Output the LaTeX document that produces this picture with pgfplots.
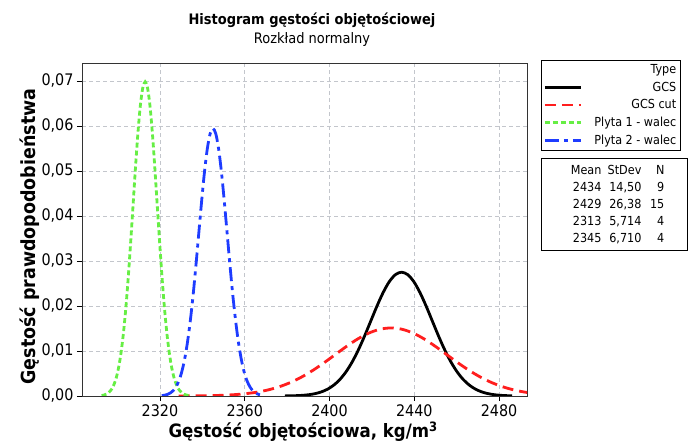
\documentclass[border=0pt]{standalone}
\usepackage{pgfplots}
\pgfplotsset{compat=1.18}
\usepackage{fontspec}
\setmainfont{DejaVu Sans Condensed}

\definecolor{gcsred}{RGB}{255,30,30}
\definecolor{p1green}{RGB}{102,238,68}
\definecolor{p2blue}{RGB}{30,60,255}
\definecolor{gridc}{RGB}{195,198,204}

\begin{document}
\begin{tikzpicture}
\useasboundingbox (0,0) rectangle (690bp,441bp);
\begin{axis}[
    at={(82bp,45bp)}, anchor=south west,
    width=445bp, height=333bp, scale only axis,
    xmin=2283.2, xmax=2493.2,
    ymin=0, ymax=0.074,
    xtick={2320,2360,2400,2440,2480},
    ytick={0,0.01,0.02,0.03,0.04,0.05,0.06,0.07},
    scaled y ticks=false,
    xtick pos=lower, ytick pos=left,
    tick align=outside, major tick length=5bp,
    every tick/.style={black, line width=0.8bp},
    axis line style={black!80, line width=0.8bp},
    grid=major,
    major grid style={gridc, line width=0.8bp, dash pattern=on 4bp off 3bp},
    /pgf/number format/assume math mode=true,
    x tick label style={/pgf/number format/1000 sep={}, font=\fontsize{16}{18}\selectfont},
    y tick label style={/pgf/number format/.cd, use comma, fixed, fixed zerofill, precision=2, /tikz/.cd, font=\fontsize{16}{18}\selectfont},
    xlabel={\bfseries Gęstość objętościowa, kg/m\textsuperscript{3}},
    ylabel={\bfseries Gęstość prawdopodobieństwa},
    xlabel style={at={(axis description cs:0.497,-0.108)}, anchor=center, font=\fontsize{18.5}{20}\selectfont},
    ylabel style={at={(axis description cs:-0.117,0.479)}, anchor=center, font=\fontsize{19.5}{21}\selectfont},
    legend style={at={(1.0315,1.009)}, anchor=north west, draw=black, line width=0.8bp,
        font=\fontsize{12.5}{14}\selectfont, row sep=3bp, inner sep=2bp},
    legend cell align=right,
    legend image code/.code={\draw[#1] (0bp,0bp) -- (36bp,0bp);},
]
\addlegendimage{empty legend}
\addlegendentry{\makebox[92bp][r]{Type}}

\addplot[black, line width=2.8bp, smooth] coordinates {
(2378.9,0.0000201) (2381.8,0.0000422) (2384.7,0.0000850) (2387.6,0.000164) (2390.5,0.000306)
(2393.4,0.000546) (2396.3,0.000937) (2399.2,0.001544) (2402.1,0.002447) (2405.0,0.003724)
(2407.9,0.005445) (2410.8,0.007650) (2413.7,0.010326) (2416.6,0.013392) (2419.5,0.016688)
(2422.4,0.019979) (2425.3,0.022981) (2428.2,0.025398) (2431.1,0.026969) (2434.0,0.027513)
(2436.9,0.026969) (2439.8,0.025398) (2442.7,0.022981) (2445.6,0.019979) (2448.5,0.016688)
(2451.4,0.013392) (2454.3,0.010326) (2457.2,0.007650) (2460.1,0.005445) (2463.0,0.003724)
(2465.9,0.002447) (2468.8,0.001544) (2471.7,0.000937) (2474.6,0.000546) (2477.5,0.000306)
(2480.4,0.000164) (2483.3,0.0000850) (2486.2,0.0000422)
};
\addlegendentry{\makebox[92bp][r]{GCS}}

\addplot[gcsred, line width=2.8bp, smooth, dash pattern=on 11bp off 6bp] coordinates {
(2328.76,0.0000111) (2334.03,0.0000232) (2339.31,0.0000467) (2344.58,0.0000904) (2349.86,0.000168)
(2355.14,0.000300) (2360.41,0.000515) (2365.69,0.000849) (2370.96,0.001345) (2376.24,0.002047)
(2381.52,0.002993) (2386.79,0.004205) (2392.07,0.005676) (2397.34,0.007361) (2402.62,0.009173)
(2407.90,0.010982) (2413.17,0.012632) (2418.45,0.013960) (2423.72,0.014823) (2429.00,0.015123)
(2434.28,0.014823) (2439.55,0.013960) (2444.83,0.012632) (2450.10,0.010982) (2455.38,0.009173)
(2460.66,0.007361) (2465.93,0.005676) (2471.21,0.004205) (2476.48,0.002993) (2481.76,0.002047)
(2487.04,0.001345) (2492.31,0.000849) (2497.59,0.000515)
};
\addlegendentry{\makebox[92bp][r]{GCS cut}}

\addplot[p1green, line width=2.8bp, smooth, dash pattern=on 5bp off 3bp] coordinates {
(2292.43,0.000107) (2293.57,0.000216) (2294.72,0.000417) (2295.86,0.000776) (2297.00,0.001385)
(2298.14,0.002377) (2299.29,0.003919) (2300.43,0.006208) (2301.57,0.009449) (2302.72,0.013817)
(2303.86,0.019412) (2305.00,0.026204) (2306.14,0.033984) (2307.29,0.042347) (2308.43,0.050699)
(2309.57,0.058318) (2310.71,0.064450) (2311.86,0.068436) (2313.00,0.069818) (2314.14,0.068436)
(2315.29,0.064450) (2316.43,0.058318) (2317.57,0.050699) (2318.71,0.042347) (2319.86,0.033984)
(2321.00,0.026204) (2322.14,0.019412) (2323.29,0.013817) (2324.43,0.009449) (2325.57,0.006208)
(2326.71,0.003919) (2327.86,0.002377) (2329.00,0.001385) (2330.14,0.000776) (2331.29,0.000417)
(2332.43,0.000216) (2333.57,0.000107)
};
\addlegendentry{\makebox[92bp][r]{Plyta 1 - walec}}

\addplot[p2blue, line width=2.8bp, smooth, dash pattern=on 14bp off 5bp on 4bp off 5bp] coordinates {
(2320.84,0.0000912) (2322.19,0.000184) (2323.53,0.000355) (2324.87,0.000661) (2326.21,0.001180)
(2327.55,0.002024) (2328.90,0.003338) (2330.24,0.005287) (2331.58,0.008046) (2332.92,0.011766)
(2334.26,0.016531) (2335.61,0.022314) (2336.95,0.028940) (2338.29,0.036061) (2339.63,0.043173)
(2340.97,0.049661) (2342.32,0.054884) (2343.66,0.058278) (2345.00,0.059455) (2346.34,0.058278)
(2347.68,0.054884) (2349.03,0.049661) (2350.37,0.043173) (2351.71,0.036061) (2353.05,0.028940)
(2354.39,0.022314) (2355.74,0.016531) (2357.08,0.011766) (2358.42,0.008046) (2359.76,0.005287)
(2361.10,0.003338) (2362.45,0.002024) (2363.79,0.001180) (2365.13,0.000661) (2366.47,0.000355)
(2367.81,0.000184) (2369.16,0.0000912)
};
\addlegendentry{\makebox[92bp][r]{Plyta 2 - walec}}
\end{axis}

\node[font=\bfseries\fontsize{14.5}{16}\selectfont] at (312bp,421bp) {Histogram gęstości objętościowej};
\node[font=\fontsize{14.5}{16}\selectfont] at (312bp,401bp) {Rozkład normalny};

\node[draw=black, line width=0.8bp, anchor=north west, minimum width=146bp, minimum height=92bp,
      inner sep=0pt, align=left, font=\fontsize{12.5}{17}\selectfont] at (541bp,283bp) {%
  \makebox[60bp][r]{Mean}\makebox[40bp][r]{StDev}\makebox[23bp][r]{N}\makebox[23bp]{}\\
  \makebox[60bp][r]{2434}\makebox[40bp][r]{14,50}\makebox[23bp][r]{9}\makebox[23bp]{}\\
  \makebox[60bp][r]{2429}\makebox[40bp][r]{26,38}\makebox[23bp][r]{15}\makebox[23bp]{}\\
  \makebox[60bp][r]{2313}\makebox[40bp][r]{5,714}\makebox[23bp][r]{4}\makebox[23bp]{}\\
  \makebox[60bp][r]{2345}\makebox[40bp][r]{6,710}\makebox[23bp][r]{4}\makebox[23bp]{}};
\end{tikzpicture}
\end{document}
